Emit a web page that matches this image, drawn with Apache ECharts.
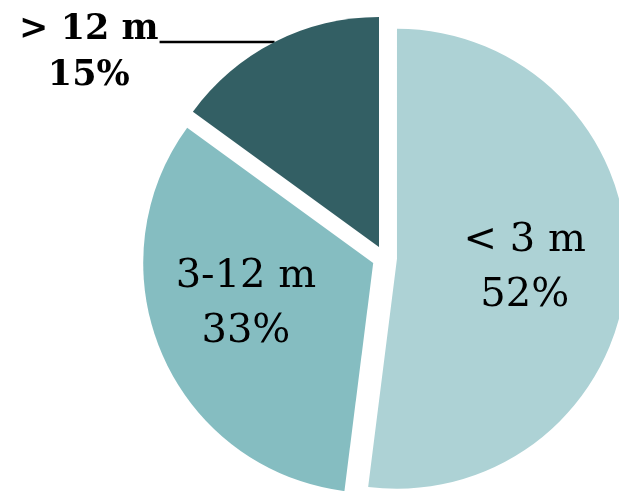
<!DOCTYPE html>
<html><head><meta charset="utf-8">
<script src="https://cdn.jsdelivr.net/npm/echarts@6/dist/echarts.min.js"></script>
<style>html,body{margin:0;padding:0;background:#fff}#c{width:619px;height:491px}</style>
</head><body><div id="c"></div>
<script>
const categories = ['< 3 m', '3-12 m', '> 12 m'];
const values = [52, 33, 15];
const colors = ['#ADD2D5', '#85BDC1', '#335F64'];
const insideFlags = [true, true, false];

const chart = echarts.init(document.getElementById('c'), null, {renderer: 'canvas'});
const data = categories.map((name, i) => {
  const item = {
    name, value: values[i], selected: true,
    itemStyle: {color: colors[i]}
  };
  if (insideFlags[i]) {
    item.label = {
      position: 'inside',
      formatter: '{n|{b}}\n{n|{c}%}',
      rich: {n: {fontFamily: 'DejaVu Serif', fontSize: 40, lineHeight: 55, color: '#000', align: 'center'}}
    };
    item.labelLine = {show: false};
  } else {
    item.label = {
      position: 'outside',
      formatter: '{b|{b}}\n{b|{c}%}',
      padding: [22, 0, 0, 0],
      distanceToLabelLine: 1,
      rich: {b: {fontFamily: 'DejaVu Serif', fontWeight: 'bold', fontSize: 35, lineHeight: 46, color: '#000', align: 'center'}}
    };
    item.labelLine = {show: true, length: 0, length2: 115, lineStyle: {color: '#000', width: 2.5}};
  }
  return item;
});

chart.setOption({
  animation: false,
  series: [{
    type: 'pie',
    center: [384.6, 258],
    radius: 230,
    startAngle: 90,
    clockwise: true,
    selectedMode: 'multiple',
    selectedOffset: 12.4,
    avoidLabelOverlap: false,
    emphasis: {disabled: true},
    label: {show: true},
    labelLayout: function (p) {
      if (p.dataIndex === 0) return {dx: 10, dy: 2};
      if (p.dataIndex === 1) return {dx: -19, dy: -6};
      return {};
    },
    data: data
  }]
});
</script>
</body></html>
